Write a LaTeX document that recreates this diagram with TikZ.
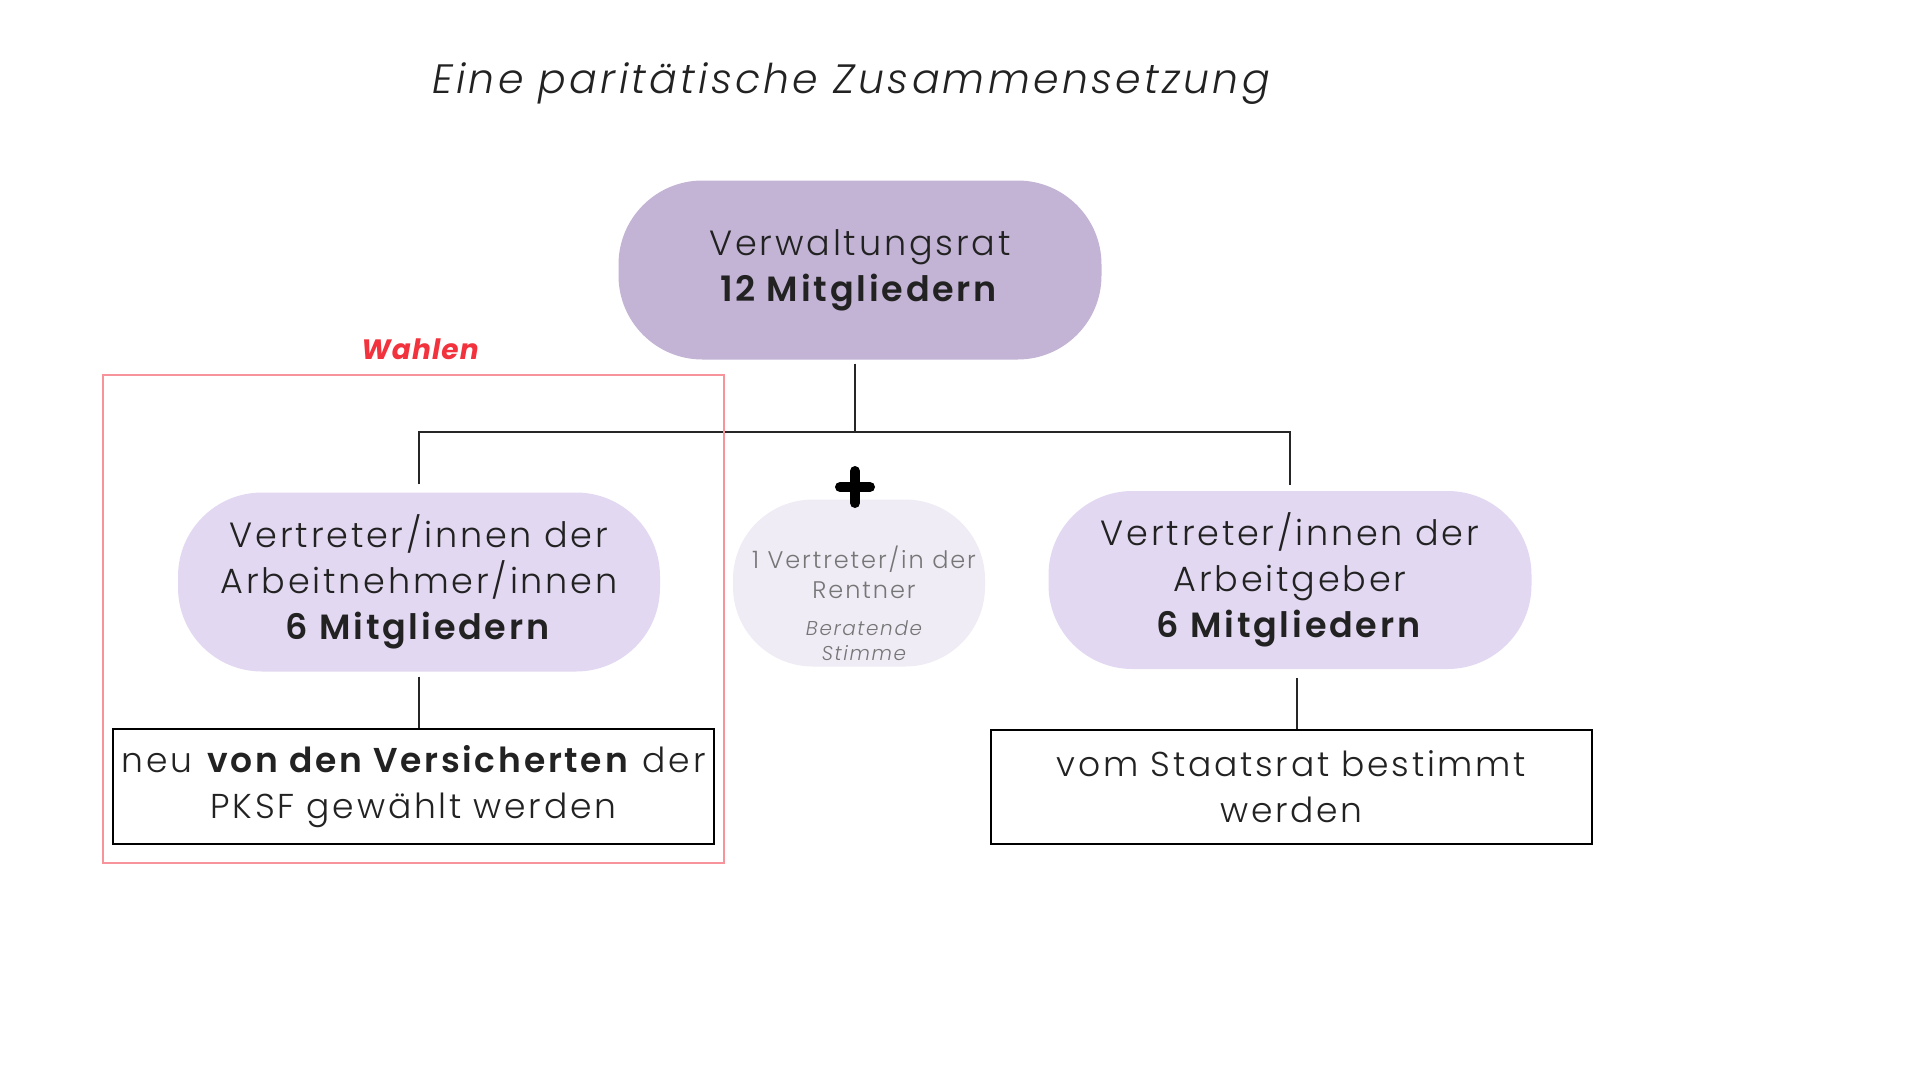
\documentclass[tikz,border=0pt]{standalone}
\usepackage{fontspec}
\setmainfont{Poppins Light}[BoldFont=Poppins SemiBold, ItalicFont=Poppins Light Italic, BoldItalicFont=Poppins Bold Italic, LetterSpace=8]
\usetikzlibrary{calc}
\definecolor{topc}{HTML}{C3B4D5}
\definecolor{subc}{HTML}{E3D8F2}
\definecolor{midc}{HTML}{EFECF5}
\definecolor{txt}{HTML}{222222}
\definecolor{graytxt}{HTML}{767676}
\definecolor{redl}{HTML}{F7939B}
\definecolor{redt}{HTML}{F2323C}
\tikzset{
  pill/.style={rounded corners=84pt, inner sep=0pt, align=center, text=txt,
    font=\fontsize{35}{46}\selectfont},
  frame/.style={draw=black, line width=1.5pt, inner sep=0pt, align=center, text=txt,
    font=\fontsize{34.5}{46}\selectfont},
  conn/.style={draw=black!85, line width=1.3pt},
}
\begin{document}
\begin{tikzpicture}[x=1pt,y=-1pt]
\useasboundingbox[fill=white] (0,0) rectangle (1920,1080);

\node[text=txt, font=\fontsize{41}{44}\selectfont\itshape] (title) at (851,84) {Eine paritätische Zusammensetzung};

\node[pill, fill=topc, minimum width=483pt, minimum height=179pt] (top) at (860,270)
  {Verwaltungsrat\\\textbf{12 Mitgliedern}};

\node[pill, fill=subc, minimum width=482pt, minimum height=179pt] (left) at (419,582)
  {Vertreter/innen der\\Arbeitnehmer/innen\\\textbf{6 Mitgliedern}};

\node[pill, fill=midc, minimum width=252pt, minimum height=167pt, rounded corners=80pt] (mid) at (859,583) {};
\node[text=graytxt, align=center, font=\fontsize{24}{30}\selectfont] (midt) at (864,572) {1 Vertreter/in der\\Rentner};
\node[text=graytxt, align=center, font=\fontsize{20}{25}\selectfont\itshape] (midb) at (864,641) {Beratende\\Stimme};

\node[pill, fill=subc, minimum width=483pt, minimum height=178pt] (right) at (1290,580)
  {Vertreter/innen der\\Arbeitgeber\\\textbf{6 Mitgliedern}};

\node[frame, minimum width=601pt, minimum height=115pt] (boxL) at (413.5,786.5)
  {neu \textbf{von den Versicherten} der\\PKSF gewählt werden};
\node[frame, minimum width=601pt, minimum height=114pt] (boxR) at (1291.5,787)
  {vom Staatsrat bestimmt\\werden};

% plus sign
\coordinate (plus) at (855,487);
\draw[line width=10pt, line cap=round] ($(plus)+(-15,0)$) -- ($(plus)+(15,0)$);
\draw[line width=10pt, line cap=round] ($(plus)+(0,-16)$) -- ($(plus)+(0,16)$);

% connectors
\coordinate (j) at (855,432);
\draw[conn] ($(top.south -| j)+(0,4)$) -- (j);
\draw[conn] ($(left.north)+(0,-8)$) |- (j) -| ($(right.north)+(0,-6)$);
\draw[conn] ($(left.south)+(0,5)$) -- (left.south |- boxL.north);
\draw[conn] ($(right.south)+(7,9)$) -- ($(right.south |- boxR.north)+(7,0)$);

% Wahlen frame
\node[draw=redl, line width=1.4pt, minimum width=621pt, minimum height=488pt, inner sep=0pt] (wahlbox) at (413.5,619) {};
\node[text=redt, font=\fontsize{28}{30}\selectfont\bfseries\itshape\addfontfeature{LetterSpace=4}] (wahl) at (420,349) {Wahlen};
\end{tikzpicture}
\end{document}
